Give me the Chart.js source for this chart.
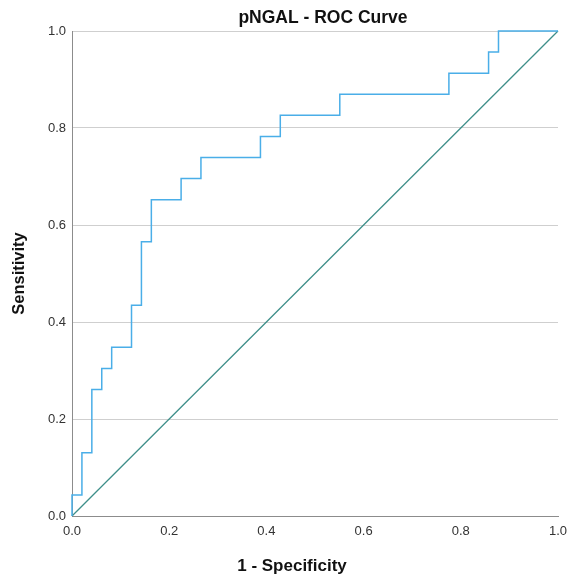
<!DOCTYPE html>
<html>
<head>
<meta charset="utf-8">
<script src="https://cdn.jsdelivr.net/npm/chart.js@4/dist/chart.umd.min.js"></script>
<style>
  html, body { margin: 0; padding: 0; background: #fff; }
  #contenedor { width: 568px; height: 577px; }
</style>
</head>
<body>
<div id="contenedor"><canvas id="graficoRoc" width="568" height="577"></canvas></div>
<script>
// 1 - especificidad en cada escalon (en 49avos) y sensibilidad tras subir (en 23avos)
const fprPasos = [0, 1, 2, 3, 4, 6, 7, 8, 11, 13, 19, 21, 27, 38, 42, 43, 49];
const tprPasos = [1, 3, 6, 7, 8, 10, 13, 15, 16, 17, 18, 19, 20, 21, 22, 23, 23];
const totalNegativos = 49;
const totalPositivos = 23;

// linea de referencia
const diagonalX = [0, 1];
const diagonalY = [0, 1];

const ticksEje = [0, 0.2, 0.4, 0.6, 0.8, 1.0];

const tituloGrafico = 'pNGAL - ROC Curve';
const tituloEjeX = '1 - Specificity';
const tituloEjeY = 'Sensitivity';

// armar los puntos de la curva escalonada
var puntosRoc = [{ x: 0, y: 0 }];
for (let i = 0; i < fprPasos.length; i++) {
  const x = fprPasos[i] / totalNegativos;
  const y = tprPasos[i] / totalPositivos;
  puntosRoc.push({ x: x, y: y });
  if (i + 1 < fprPasos.length) {
    puntosRoc.push({ x: fprPasos[i + 1] / totalNegativos, y: y });
  }
}

var puntosDiagonal = diagonalX.map((x, i) => ({ x: x, y: diagonalY[i] }));

const fuente = "'Liberation Sans', Arial, sans-serif";
Chart.defaults.font.family = fuente;

// Titulo principal y titulo del eje X, ubicados como en el original
const titulosPlugin = {
  id: 'titulos',
  afterDraw(chart) {
    const c = chart.ctx;
    c.save();
    c.fillStyle = '#111';
    c.textAlign = 'center';
    c.textBaseline = 'middle';
    c.font = "bold 17.5px " + fuente;
    c.fillText(tituloGrafico, 323, 18);
    c.font = "bold 17px " + fuente;
    c.fillText(tituloEjeX, 292, 566);
    c.restore();
  }
};

const config = {
  type: 'scatter',
  data: {
    datasets: [
      {
        data: puntosRoc,
        showLine: true,
        borderColor: '#4aaee8',
        borderWidth: 1.5,
        pointRadius: 0,
        clip: false
      },
      {
        data: puntosDiagonal,
        showLine: true,
        borderColor: '#3f8f8a',
        borderWidth: 1.3,
        pointRadius: 0,
        clip: false
      }
    ]
  },
  options: {
    responsive: false,
    animation: false,
    layout: { padding: { left: 0, right: 0, top: 31, bottom: 0 } },
    plugins: {
      legend: { display: false },
      tooltip: { enabled: false },
      title: { display: false }
    },
    scales: {
      x: {
        type: 'linear',
        min: 0,
        max: 1,
        afterBuildTicks: (eje) => { eje.ticks = ticksEje.map(v => ({ value: v })); },
        afterFit: (eje) => { eje.height = 61; eje.paddingRight = 10; },
        grid: { display: false, drawTicks: false },
        border: { display: true, color: '#8c8c8c', width: 1 },
        ticks: {
          color: '#333',
          font: { size: 13 },
          padding: 8,
          maxRotation: 0,
          callback: (v) => Number(v).toFixed(1)
        }
      },
      y: {
        type: 'linear',
        min: 0,
        max: 1,
        afterBuildTicks: (eje) => { eje.ticks = ticksEje.map(v => ({ value: v })); },
        afterFit: (eje) => { eje.width = 72; eje.paddingTop = 0; eje.paddingBottom = 0; },
        grid: { color: '#cfcfcf', lineWidth: 1, drawTicks: false },
        border: { display: true, color: '#8c8c8c', width: 1 },
        ticks: {
          color: '#333',
          font: { size: 13 },
          padding: 6,
          callback: (v) => Number(v).toFixed(1)
        },
        title: {
          display: true,
          text: tituloEjeY,
          color: '#111',
          font: { size: 16.5, weight: 'bold' },
          padding: { top: 10, bottom: 0 }
        }
      }
    }
  },
  plugins: [titulosPlugin]
};

const ctx = document.getElementById('graficoRoc').getContext('2d');
new Chart(ctx, config);
</script>
</body>
</html>
